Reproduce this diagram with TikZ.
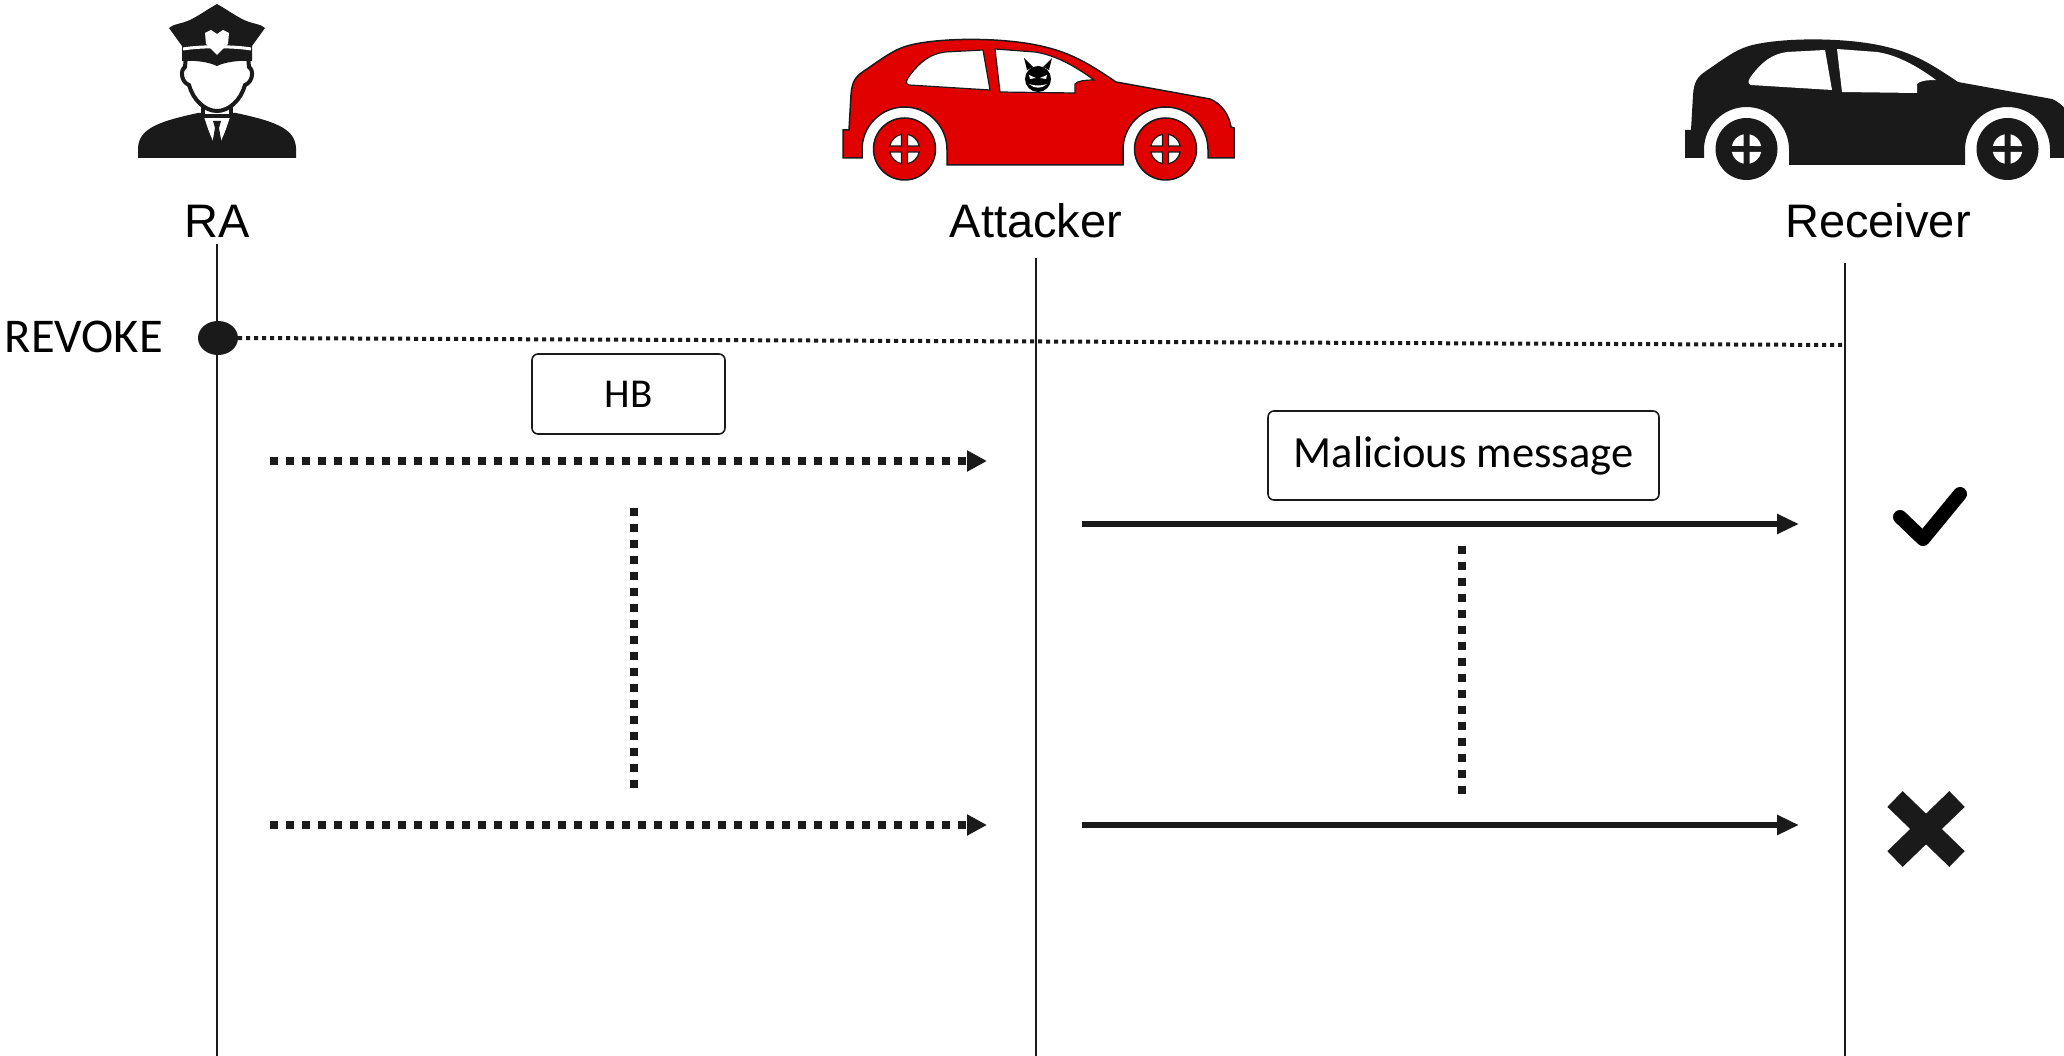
\documentclass[tikz,border=0pt]{standalone}
\usepackage{fontspec}
\setmainfont{Liberation Sans}
\newfontfamily\boxfont{Carlito}
\usetikzlibrary{arrows.meta,shapes.geometric,calc}

\definecolor{ink}{HTML}{1A1A1A}
\definecolor{carred}{HTML}{E00000}

% car silhouette, rear wheel centred near x=904
\newcommand{\carshape}{%
  (843,158) -- (862,158) -- (862,149.5) arc[start angle=180,end angle=360,radius=42.5]
  -- (947,165) -- (1123,165) -- (1123,149.5) arc[start angle=180,end angle=360,radius=42.5]
  -- (1208,158) -- (1234,158) -- (1234,128) -- (1231,127)
  .. controls (1229,115) and (1222,104) .. (1210,99)
  -- (1116,82)
  .. controls (1095,68) and (1075,54) .. (1045,47)
  .. controls (1010,38) and (950,37) .. (915,44)
  .. controls (900,47) and (892,52) .. (880,60)
  -- (864,71) .. controls (855,77) and (852,82) .. (851,95)
  -- (849,130) -- (843,130) -- cycle}
\newcommand{\rearwindow}{%
  (909,85) .. controls (905,84) and (906,80) .. (910,75)
  .. controls (920,62) and (930,54) .. (945,52)
  -- (983,50) -- (990,90) -- cycle}
\newcommand{\frontwindow}{%
  (995,49) -- (1000,92) -- (1075,93) -- (1075,84)
  .. controls (1077,81) and (1085,80) .. (1094,80)
  .. controls (1075,66) and (1055,55) .. (1035,52) -- cycle}

\begin{document}
\begin{tikzpicture}[x=1pt,y=-1pt,
  actor/.style={font=\fontsize{47}{52}\selectfont, inner sep=0pt, text=black},
  lifeline/.style={draw=ink, line width=2pt},
  msgbox/.style={draw=ink, line width=1.6pt, rounded corners=6pt, fill=white,
    font=\boxfont\fontsize{41}{44}\selectfont, inner sep=0pt},
  hbarrow/.style={draw=ink, line width=8pt, dash pattern=on 8pt off 8pt,
    -{Triangle[length=20pt,width=20pt]}},
  gapline/.style={draw=ink, line width=8pt, dash pattern=on 8pt off 8pt},
  msgarrow/.style={draw=ink, line width=5.5pt, -{Triangle[length=22pt,width=19pt]}},
  revline/.style={draw=ink, line width=4pt, dash pattern=on 4pt off 4pt},
  hub/.style={fill=white, draw=ink, line width=1.2pt}]

\useasboundingbox (0,0) rectangle (2064,1056);
\fill[white] (0,0) rectangle (2064,1056);

% ---------- RA: police officer ----------
\fill[ink] (138,158) -- (138,148) .. controls (139,130) and (155,122) .. (198,113)
  -- (236,113) .. controls (279,122) and (295,130) .. (296,148) -- (296,158) -- cycle;
\fill[white] (202,116) -- (232,116) -- (217,150) -- cycle;
\draw[ink, line width=3pt] (202,116) -- (212,146);
\draw[ink, line width=3pt] (232,116) -- (222,146);
\fill[ink] (213,121) -- (221,121) -- (219,128) -- (222,145) -- (217,151) -- (212,145) -- (215,128) -- cycle;
\filldraw[fill=white, draw=ink, line width=4pt] (203,96) -- (203,116) -- (231,116) -- (231,96);
\filldraw[fill=white, draw=ink, line width=4pt] (186,56) -- (185,67)
  .. controls (180,70) and (181,82) .. (189,85)
  .. controls (193,100) and (205,111) .. (217,111)
  .. controls (229,111) and (241,100) .. (245,85)
  .. controls (253,82) and (254,70) .. (249,67) -- (248,56);
% cap: crown, band and badge
\fill[ink] (169,28) .. controls (173,24) and (181,24) .. (190,20)
  .. controls (200,15) and (208,9) .. (217,4)
  .. controls (226,9) and (234,15) .. (244,20)
  .. controls (253,24) and (261,24) .. (265,28)
  -- (252,46) -- (252,61) .. controls (240,60) and (225,62) .. (217,66)
  .. controls (209,62) and (194,60) .. (182,61) -- (182,46) -- cycle;
\draw[white, line width=3pt] (183,49) .. controls (200,46) and (234,46) .. (251,49);
\fill[white] (205,33) -- (211,30) -- (217,34) -- (223,30) -- (229,33)
  -- (228,44) -- (217,55) -- (206,44) -- cycle;

% ---------- Attacker: red car ----------
\filldraw[fill=carred, draw=ink, line width=1.5pt] \carshape;
\filldraw[fill=white, draw=ink, line width=1.2pt] \rearwindow;
\filldraw[fill=white, draw=ink, line width=1.2pt] \frontwindow;
\foreach \cx in {904.5,1165.5}{
  \filldraw[fill=carred, draw=ink, line width=1.5pt] (\cx,149) circle[radius=31];
  \foreach \a in {0,90,180,270}
    \filldraw[hub, rotate around={\a:(\cx,149)}]
      ($(\cx,149)+(3,3)$) -- ($(\cx,149)+(14.7,3)$)
      arc[start angle=11.5,end angle=78.5,radius=15] -- cycle;
}
% devil at the wheel
\fill[black] (1038,79) circle[radius=13];
\fill[black] (1027,70) -- (1024,58) -- (1033,67) -- cycle;
\fill[black] (1049,70) -- (1052,58) -- (1043,67) -- cycle;
\fill[white] (1029,75) -- (1036,78) -- (1030,79) -- cycle;
\fill[white] (1047,75) -- (1040,78) -- (1046,79) -- cycle;
\fill[white] (1029,84) .. controls (1034,89) and (1042,89) .. (1047,84)
  .. controls (1042,86) and (1034,86) .. (1029,84) -- cycle;

% ---------- Receiver: black car ----------
\begin{scope}[xshift=842pt]
  \fill[ink] \carshape;
  \fill[white] \rearwindow;
  \fill[white] \frontwindow;
  \foreach \cx in {904.5,1165.5}{
    \fill[ink] (\cx,149) circle[radius=31];
    \foreach \a in {0,90,180,270}
      \fill[white, rotate around={\a:(\cx,149)}]
        ($(\cx,149)+(3,3)$) -- ($(\cx,149)+(14.7,3)$)
        arc[start angle=11.5,end angle=78.5,radius=15] -- cycle;
  }
\end{scope}

% ---------- actors and lifelines ----------
\node[actor] (ra) at (217,221) {RA};
\node[actor] (att) at (1036,221) {Attacker};
\node[actor] (rec) at (1878,221) {Receiver};

\coordinate (raTop) at (217,244);  \coordinate (raBot) at (217,1056);
\coordinate (atTop) at (1036,258); \coordinate (atBot) at (1036,1056);
\coordinate (reTop) at (1845,263); \coordinate (reBot) at (1845,1056);
\draw[lifeline] (raTop) -- (raBot);
\draw[lifeline] (atTop) -- (atBot);
\draw[lifeline] (reTop) -- (reBot);

% ---------- revocation ----------
\node[ellipse, fill=ink, minimum width=40pt, minimum height=34pt, inner sep=0pt] (revoke) at (218,338) {};
\node[font=\boxfont\fontsize{48.5}{50}\selectfont, anchor=east, inner sep=0pt] (revlabel) at (163,337) {REVOKE};
\coordinate (revEnd) at (1845,345);
\draw[revline] (revoke.east) -- (revEnd);

% ---------- heartbeats ----------
\node[msgbox, minimum width=193pt, minimum height=80pt] (hb) at (628.5,394) {HB};
\coordinate (hb1s) at (270,461); \coordinate (hb1e) at (987,461);
\coordinate (hb2s) at (270,825); \coordinate (hb2e) at (987,825);
\draw[hbarrow] (hb1s) -- (hb1e);
\draw[hbarrow] (hb2s) -- (hb2e);
\coordinate (g1s) at (634,508); \coordinate (g1e) at (634,790);
\draw[gapline] (g1s) -- (g1e);

% ---------- malicious messages ----------
\node[msgbox, minimum width=391pt, minimum height=89pt,
  font=\boxfont\fontsize{44.5}{48}\selectfont] (mm) at (1463.5,455.5) {\raisebox{-3pt}{Malicious message}};
\coordinate (mm1s) at (1082,524); \coordinate (mm1e) at (1799,524);
\coordinate (mm2s) at (1082,825); \coordinate (mm2e) at (1799,825);
\draw[msgarrow] (mm1s) -- (mm1e);
\draw[msgarrow] (mm2s) -- (mm2e);
\coordinate (g2s) at (1462,546); \coordinate (g2e) at (1462,796);
\draw[gapline] (g2s) -- (g2e);

% ---------- outcomes ----------
\draw[black, line width=14pt, line cap=round, line join=round]
  (1900,517) -- (1923,539) -- (1960,494);
\draw[ink, line width=22pt] (1895,799) -- (1957,859);
\draw[ink, line width=22pt] (1957,799) -- (1895,859);

\end{tikzpicture}
\end{document}
